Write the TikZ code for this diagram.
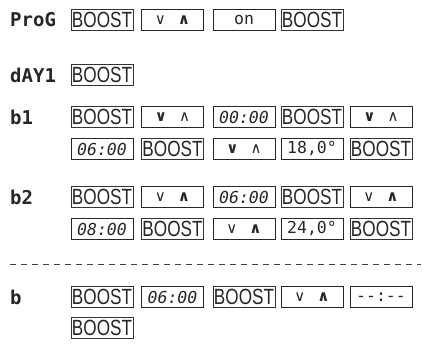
\documentclass[tikz,border=0pt]{standalone}
\usepackage{fontspec}
\setmainfont{Liberation Sans}
\newfontfamily\boostfont[FakeStretch=0.78]{Liberation Sans}
\newfontfamily\segfont{DejaVu Sans Mono}
\newfontfamily\keyfont{DejaVu Sans}
\newcommand{\keysdn}{\textbf{∨}\hspace{12pt}∧}
\newcommand{\keysup}{∨\hspace{12pt}\textbf{∧}}
\tikzset{
    any-key/.style = {rectangle, minimum width=62pt, minimum height=21pt, inner sep=0pt, text=black!85},
    boost-key/.style = {any-key, draw=black!80, line width=0.9pt, font=\boostfont\fontsize{22}{22}\selectfont},
    arrow-key/.style = {any-key, draw=black!85, line width=0.5pt, font=\keyfont\fontsize{15}{15}\selectfont},
    time-box/.style = {any-key, draw=black!85, line width=0.5pt, font=\segfont\itshape\fontsize{16.5}{16.5}\selectfont},
    temp-box/.style = {any-key, draw=black!85, line width=0.5pt, font=\segfont\fontsize{16.5}{16.5}\selectfont},
    mode-label/.style = {anchor=west, inner sep=0pt, text=black!85, font=\segfont\bfseries\fontsize{19}{19}\selectfont},
    dash-line/.style = {draw=black!75, line width=0.8pt, dash pattern=on 6pt off 5pt},
}

\begin{document}
\begin{tikzpicture}[x=1pt, y=-1pt]
\useasboundingbox (0,0) rectangle (423,350);

% programme
\node [mode-label] (prog) at (10,20) {ProG};
\node [boost-key] (prog-a) at (102,20) {BOOST};
\node [arrow-key] (prog-b) at (172.5,20) {\keysup};
\node [temp-box]  (prog-c) at (244,20) {on};
\node [boost-key] (prog-d) at (312,20) {BOOST};

% day
\node [mode-label] (day) at (10,75) {dAY1};
\node [boost-key] (day-a) at (102,75) {BOOST};

% block 1
\node [mode-label] (b1) at (10,117) {b1};
\node [boost-key] (b1-a) at (102,117) {BOOST};
\node [arrow-key] (b1-b) at (172.5,117) {\keysdn};
\node [time-box]  (b1-c) at (244,117) {00:00};
\node [boost-key] (b1-d) at (312,117) {BOOST};
\node [arrow-key] (b1-e) at (381,117) {\keysdn};
\node [time-box]  (b1-f) at (102,149) {06:00};
\node [boost-key] (b1-g) at (172.5,149) {BOOST};
\node [arrow-key] (b1-h) at (244,149) {\keysdn};
\node [temp-box]  (b1-i) at (312,149) {18,0°};
\node [boost-key] (b1-j) at (381,149) {BOOST};

% block 2
\node [mode-label] (b2) at (10,197) {b2};
\node [boost-key] (b2-a) at (102,197) {BOOST};
\node [arrow-key] (b2-b) at (172.5,197) {\keysup};
\node [time-box]  (b2-c) at (244,197) {06:00};
\node [boost-key] (b2-d) at (312,197) {BOOST};
\node [arrow-key] (b2-e) at (381,197) {\keysup};
\node [time-box]  (b2-f) at (102,229) {08:00};
\node [boost-key] (b2-g) at (172.5,229) {BOOST};
\node [arrow-key] (b2-h) at (244,229) {\keysup};
\node [temp-box]  (b2-i) at (312,229) {24,0°};
\node [boost-key] (b2-j) at (381,229) {BOOST};

\draw [dash-line] (10,264) -- (421,264);

% clear block
\node [mode-label] (b) at (10,297) {b};
\node [boost-key] (b-a) at (102,297) {BOOST};
\node [time-box]  (b-b) at (172.5,297) {06:00};
\node [boost-key] (b-c) at (244,297) {BOOST};
\node [arrow-key] (b-d) at (312,297) {\keysup};
\node [temp-box]  (b-e) at (381,297) {--:--};
\node [boost-key] (b-f) at (102,328) {BOOST};
\end{tikzpicture}
\end{document}
